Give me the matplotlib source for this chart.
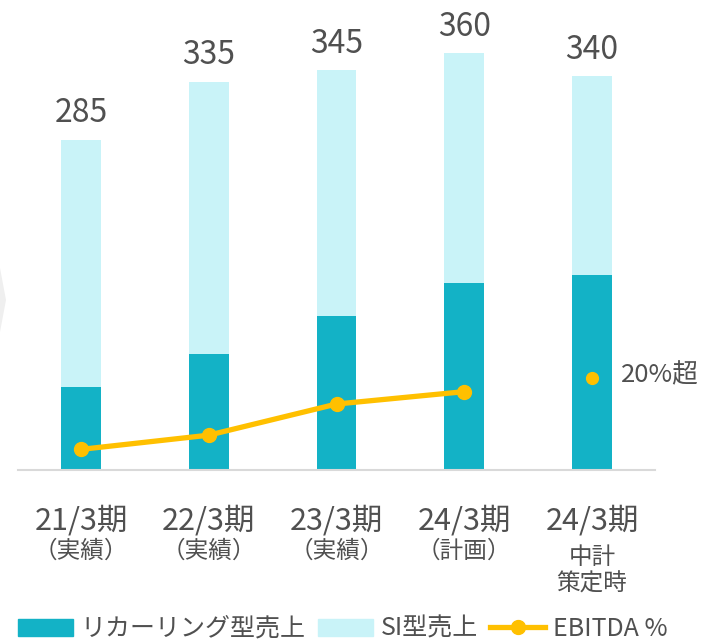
import matplotlib
matplotlib.use("Agg")
import matplotlib.pyplot as plt
import matplotlib.transforms as mtransforms
from matplotlib.patches import Patch, Polygon
from matplotlib.lines import Line2D

plt.rcParams['font.family'] = ['Noto Sans CJK JP', 'DejaVu Sans']

# data
periods = ['21/3期', '22/3期', '23/3期', '24/3期', '24/3期']
subtitles = ['（実績）', '（実績）', '（実績）', '（計画）', '中計\n策定時']
totals = [285, 335, 345, 360, 340]
recurring = [72, 100, 133, 161, 168]
si = [t - r for t, r in zip(totals, recurring)]
ebitda = [4.5, 7.6, 14.4, 17.1]
ebitda_target = 20.0
target_label = '20%超'

dark = '#13B2C6'
light = '#C9F3F8'
gold = '#FFC000'
txt = '#505050'

W, H = 715, 644
fig = plt.figure(figsize=(W / 100, H / 100), dpi=100)
ax = fig.add_axes([18 / W, (H - 470) / H, 637 / W, 460 / H])

x = list(range(len(totals)))
bw = 0.313
ax.bar(x, recurring, bw, color=dark, zorder=2)
ax.bar(x, si, bw, bottom=recurring, color=light, zorder=2)

for xi, t in zip(x, totals):
    ax.annotate(str(t), (xi, t), xytext=(0, 12.5), textcoords='offset points',
                ha='center', va='baseline', fontsize=23, color=txt)

ax.set_xlim(-0.493, 4.493)
ax.set_ylim(0, 397)
for s in ['top', 'right', 'left']:
    ax.spines[s].set_visible(False)
ax.spines['bottom'].set_color('#D9D9D9')
ax.spines['bottom'].set_linewidth(1.5)
ax.set_xticks([])
ax.set_yticks([])

# EBITDA on a secondary scale
ax2 = ax.twinx()
ax2.set_ylim(0, 100.4)
ax2.axis('off')
ax2.plot(x[:len(ebitda)], ebitda, color=gold, lw=3.8, marker='o', ms=10,
         solid_capstyle='round', zorder=3)
ax2.plot([x[-1]], [ebitda_target], 'o', color=gold, ms=8.5, zorder=3)
ax2.annotate(target_label, (x[-1], ebitda_target), xytext=(21, 2),
             textcoords='offset points', ha='left', va='center',
             fontsize=18.5, color=txt)

# category labels
tr = mtransforms.blended_transform_factory(ax.transData, fig.transFigure)
for xi, p, s in zip(x, periods, subtitles):
    ax.text(xi, (H - 521) / H, p, transform=tr, ha='center', va='center',
            fontsize=22, color=txt)
    lines = s.split('\n')
    if len(lines) == 1:
        ax.text(xi, (H - 551) / H, lines[0], transform=tr, ha='center',
                va='center', fontsize=17, color=txt)
    else:
        ax.text(xi, (H - 558) / H, lines[0], transform=tr, ha='center',
                va='center', fontsize=17, color=txt)
        ax.text(xi, (H - 584) / H, lines[1], transform=tr, ha='center',
                va='center', fontsize=17, color=txt)

# faint chevron cut off at the left edge
fig.patches.append(Polygon([(0, (H - 268) / H), (6 / W, (H - 300) / H), (0, (H - 332) / H)],
                           closed=True, transform=fig.transFigure,
                           facecolor='#EFEFEF', edgecolor='none'))

handles = [Patch(color=dark), Patch(color=light),
           Line2D([], [], color=gold, lw=3.8, marker='o', ms=10)]
labels = ['リカーリング型売上', 'SI型売上', 'EBITDA %']
fig.legend(handles, labels, loc='center left', bbox_to_anchor=(18 / W, (H - 629) / H),
           ncol=3, frameon=False, fontsize=18, handlelength=2.2,
           handletextpad=0.3, columnspacing=0.5, borderpad=0, borderaxespad=0,
           labelcolor=txt)

fig.savefig('out.png', dpi=100)
